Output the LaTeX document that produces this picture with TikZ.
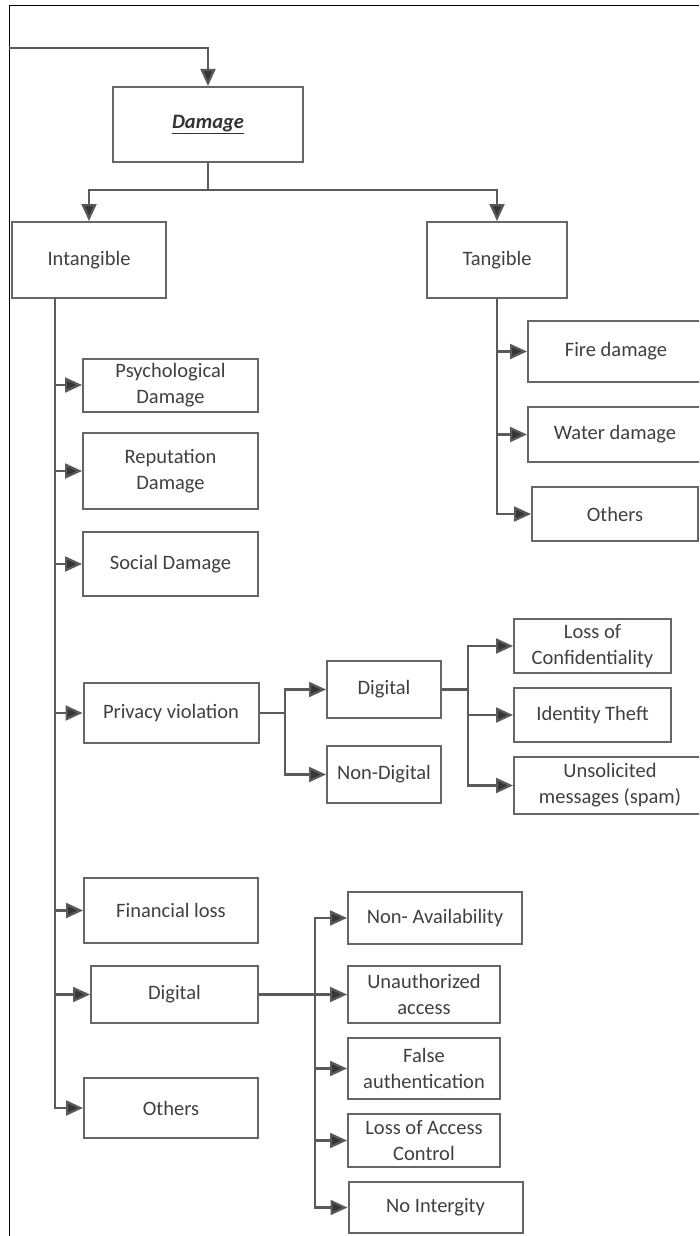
\documentclass[tikz,border=0pt]{standalone}
\usepackage{fontspec}
\setmainfont{Carlito}
\usepackage{xcolor}
\usetikzlibrary{arrows.meta}
\definecolor{boxline}{HTML}{666666}
\definecolor{connline}{HTML}{5A5A5A}
\definecolor{labeltext}{HTML}{404040}
\definecolor{tipdark}{HTML}{363636}

\begin{document}
\begin{tikzpicture}[x=1pt, y=-1pt,
    dmg_box/.style={rectangle, draw=boxline, line width=2pt, fill=white, inner sep=2pt, align=center, text=labeltext, font=\fontsize{20.5}{26}\selectfont},
    link/.style={draw=connline, line width=2.2pt},
    flow/.style={link, -{Triangle[length=17pt, width=15pt, fill=tipdark]}}
]
    \useasboundingbox (0,0) rectangle (699,1236);
    \clip (0,0) rectangle (699,1236);
    \fill[white] (0,0) rectangle (699,1236);
    \draw[black, line width=1pt] (9,1240) -- (9,5.5) -- (699,5.5);

    \node[dmg_box, minimum width=190, minimum height=75, text=black!80] (damage) at (208,124.5) {\textbf{\textit{\underline{Damage}}}};
    \node[dmg_box, minimum width=154, minimum height=76] (intang) at (89,260) {Intangible};
    \node[dmg_box, minimum width=140, minimum height=76] (tang) at (497,260) {Tangible};

    \node[dmg_box, minimum width=176, minimum height=61] (fire) at (616,351.5) {Fire damage};
    \node[dmg_box, minimum width=174, minimum height=55] (water) at (615,434.5) {Water damage};
    \node[dmg_box, minimum width=166, minimum height=54] (tothers) at (615,514) {Others};

    \node[dmg_box, minimum width=175, minimum height=53] (psych) at (170.5,385) {Psychological\\Damage};
    \node[dmg_box, minimum width=175, minimum height=76] (reput) at (170.5,471) {Reputation\\Damage};
    \node[dmg_box, minimum width=175, minimum height=64] (social) at (170.5,564) {Social Damage};
    \node[dmg_box, minimum width=175, minimum height=60] (privacy) at (171,713) {Privacy violation};
    \node[dmg_box, minimum width=174, minimum height=65] (fin) at (171,910.5) {Financial loss};
    \node[dmg_box, minimum width=167, minimum height=57] (ddigital) at (174.5,994.5) {Digital};
    \node[dmg_box, minimum width=174, minimum height=60] (iothers) at (171,1108) {Others};

    \node[dmg_box, minimum width=114, minimum height=57] (pdigital) at (384,689.5) {Digital};
    \node[dmg_box, minimum width=114, minimum height=57] (nondig) at (384,774.5) {Non-Digital};
    \node[dmg_box, minimum width=157, minimum height=54] (conf) at (592.5,646) {Loss of\\Confidentiality};
    \node[dmg_box, minimum width=157, minimum height=54] (ident) at (592.5,715) {Identity Theft};
    \node[dmg_box, minimum width=192, minimum height=57] (spam) at (610,785.5) {Unsolicited\\messages (spam)};

    \node[dmg_box, minimum width=174, minimum height=52] (navail) at (435,918) {Non- Availability};
    \node[dmg_box, minimum width=152, minimum height=57] (unauth) at (424,994.5) {Unauthorized\\access};
    \node[dmg_box, minimum width=152, minimum height=61] (falseauth) at (424,1068.5) {False\\authentication};
    \node[dmg_box, minimum width=152, minimum height=53] (lac) at (424,1140.5) {Loss of Access\\Control};
    \node[dmg_box, minimum width=174, minimum height=51] (noint) at (435.5,1207.5) {No Intergity};

    \coordinate (entry) at (9,48);
    \coordinate (split) at (208,190);
    \coordinate (itrunk) at (55,298);
    \coordinate (psplit) at (285,713);
    \coordinate (dsplit) at (468,689.5);
    \coordinate (vsplit) at (315,994.5);

    \draw[flow] (entry) -| (damage.north);
    \draw[link] (damage.south) -- (split);
    \draw[flow] (split) -| (intang.north);
    \draw[flow] (split) -| (tang.north);

    \draw[flow] (tang.south) |- (fire.west);
    \draw[flow] (tang.south) |- (water.west);
    \draw[flow] (tang.south) |- (tothers.west);

    \draw[flow] (itrunk) |- (psych.west);
    \draw[flow] (itrunk) |- (reput.west);
    \draw[flow] (itrunk) |- (social.west);
    \draw[flow] (itrunk) |- (privacy.west);
    \draw[flow] (itrunk) |- (fin.west);
    \draw[flow] (itrunk) |- (ddigital.west);
    \draw[flow] (itrunk) |- (iothers.west);

    \draw[link] (privacy.east) -- (psplit);
    \draw[flow] (psplit) |- (pdigital.west);
    \draw[flow] (psplit) |- (nondig.west);
    \draw[link] (pdigital.east) -- (dsplit);
    \draw[flow] (dsplit) |- (conf.west);
    \draw[flow] (dsplit) |- (ident.west);
    \draw[flow] (dsplit) |- (spam.west);

    \draw[flow] (ddigital.east) -- (unauth.west);
    \draw[flow] (vsplit) |- (navail.west);
    \draw[flow] (vsplit) |- (falseauth.west);
    \draw[flow] (vsplit) |- (lac.west);
    \draw[flow] (vsplit) |- (noint.west);
\end{tikzpicture}
\end{document}
